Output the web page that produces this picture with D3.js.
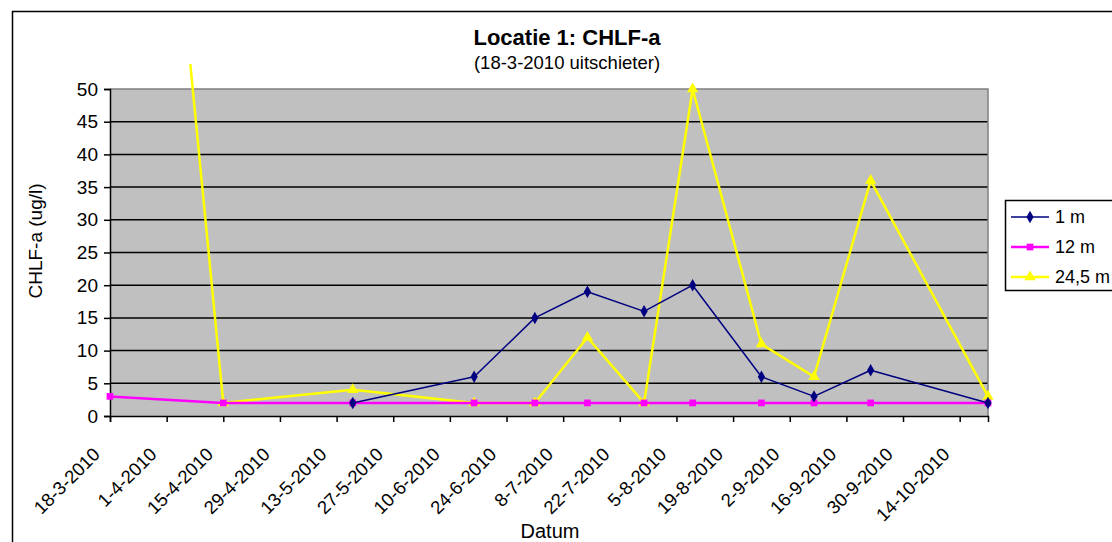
<!DOCTYPE html>
<html>
<head>
<meta charset="utf-8">
<script src="https://cdn.jsdelivr.net/npm/d3@7"></script>
<style>
  body { margin: 0; background: #fff; }
  svg { display: block; }
  text { font-family: Arial, "Liberation Sans", sans-serif; fill: #000; }
</style>
</head>
<body>
<svg id="chart" width="1112" height="542"></svg>
<script>
// Sampling dates and CHLF-a concentrations (ug/l) per depth
const sampleDates = ["18-3-2010", "15-4-2010", "17-5-2010", "16-6-2010", "1-7-2010", "14-7-2010",
                     "28-7-2010", "9-8-2010", "26-8-2010", "8-9-2010", "22-9-2010", "21-10-2010"];
const depth1m   = [null, null, 2, 6, 15, 19, 16, 20, 6, 3, 7, 2];
const depth12m  = [3, 2, 2, 2, 2, 2, 2, 2, 2, 2, 2, 2];
const depth245m = [180, 2, 4, 2, 2, 12, 2, 50, 11, 6, 36, 3];

const seriesNames = ["1 m", "12 m", "24,5 m"];
const yTicks = [0, 5, 10, 15, 20, 25, 30, 35, 40, 45, 50];
const xTickLabels = ["18-3-2010", "1-4-2010", "15-4-2010", "29-4-2010", "13-5-2010", "27-5-2010",
                     "10-6-2010", "24-6-2010", "8-7-2010", "22-7-2010", "5-8-2010", "19-8-2010",
                     "2-9-2010", "16-9-2010", "30-9-2010", "14-10-2010"];

const parse = d3.timeParse("%d-%m-%Y");
const dates = sampleDates.map(parse);
const tickDates = xTickLabels.map(parse);

const svg = d3.select("#chart");
const plot = { left: 110, right: 988, top: 89, bottom: 416 };

// outer chart frame
svg.append("rect")
  .attr("x", 12.5).attr("y", 11.5).attr("width", 1120).attr("height", 560)
  .attr("fill", "#fff").attr("stroke", "#000").attr("stroke-width", 1.5);

const x = d3.scaleTime().domain([dates[0], dates[dates.length - 1]]).range([plot.left, plot.right]);
const y = d3.scaleLinear().domain([0, 50]).range([plot.bottom, plot.top]);

// plot area
svg.append("rect")
  .attr("x", plot.left).attr("y", plot.top)
  .attr("width", plot.right - plot.left).attr("height", plot.bottom - plot.top)
  .attr("fill", "#c0c0c0");

// horizontal gridlines
svg.append("g").selectAll("line").data(yTicks.slice(1, -1)).join("line")
  .attr("x1", plot.left).attr("x2", plot.right)
  .attr("y1", d => y(d)).attr("y2", d => y(d))
  .attr("stroke", "#000").attr("stroke-width", 1.5);

// plot border (top and right)
svg.append("path")
  .attr("d", `M${plot.left},${plot.top}H${plot.right}V${plot.bottom}`)
  .attr("fill", "none").attr("stroke", "#808080").attr("stroke-width", 1.5);

// y axis
const yAxis = svg.append("g")
  .attr("transform", `translate(${plot.left},0)`)
  .call(d3.axisLeft(y).tickValues(yTicks).tickSize(6).tickPadding(6));
yAxis.select(".domain").attr("stroke", "#000").attr("stroke-width", 1.5);
yAxis.selectAll(".tick line").attr("stroke", "#000").attr("stroke-width", 1.5);
yAxis.selectAll(".tick text").attr("font-size", 19).attr("font-family", "Arial, 'Liberation Sans', sans-serif").attr("fill", "#000");

// x axis
const xAxis = svg.append("g")
  .attr("transform", `translate(0,${plot.bottom})`)
  .call(d3.axisBottom(x).tickValues(tickDates).tickSize(6).tickFormat(""));
xAxis.select(".domain").attr("stroke", "#000").attr("stroke-width", 1.5);
xAxis.selectAll(".tick line").attr("stroke", "#000").attr("stroke-width", 1.5);
xAxis.selectAll(".tick").append("text")
  .attr("text-anchor", "end")
  .attr("font-size", 18.5)
  .attr("fill", "#000")
  .attr("transform", "translate(-14,35) rotate(-45)")
  .attr("dy", "0.35em")
  .text((d, i) => xTickLabels[i]);

// series lines
const clipId = "plotClip";
svg.append("clipPath").attr("id", clipId).append("rect")
  .attr("x", plot.left - 10).attr("y", 64)
  .attr("width", plot.right - plot.left + 20).attr("height", plot.bottom - 64 + 10);

const line = d3.line()
  .defined(d => d.v != null)
  .x(d => x(d.date)).y(d => y(d.v));

const toPoints = vals => vals.map((v, i) => ({ date: dates[i], v }));

const series = [
  { name: seriesNames[0], values: depth1m, color: "#000080", width: 1.5, marker: d3.symbolDiamond, size: 45 },
  { name: seriesNames[1], values: depth12m, color: "#ff00ff", width: 2.5, marker: d3.symbolSquare, size: 45 },
  { name: seriesNames[2], values: depth245m, color: "#ffff00", width: 2.5, marker: d3.symbolTriangle, size: 55 }
];

const drawOrder = [2, 1, 0];
const gSeries = svg.append("g").attr("clip-path", `url(#${clipId})`);
drawOrder.forEach(k => {
  const s = series[k];
  const pts = toPoints(s.values);
  gSeries.append("path")
    .datum(pts)
    .attr("d", line)
    .attr("fill", "none")
    .attr("stroke", s.color)
    .attr("stroke-width", s.width)
    .attr("stroke-linejoin", "round");
  gSeries.append("g").selectAll("path")
    .data(pts.filter(d => d.v != null && d.v <= 50))
    .join("path")
    .attr("transform", d => `translate(${x(d.date)},${y(d.v)})`)
    .attr("d", d3.symbol().type(s.marker).size(s.size))
    .attr("fill", s.color);
});

// titles
svg.append("text").attr("x", 567).attr("y", 45).attr("text-anchor", "middle")
  .attr("font-size", 22).attr("font-weight", "bold").text("Locatie 1: CHLF-a");
svg.append("text").attr("x", 567).attr("y", 69).attr("text-anchor", "middle")
  .attr("font-size", 18.5).text("(18-3-2010 uitschieter)");
svg.append("text").attr("transform", "translate(42,241) rotate(-90)").attr("text-anchor", "middle")
  .attr("font-size", 19).text("CHLF-a (ug/l)");
svg.append("text").attr("x", 550).attr("y", 538).attr("text-anchor", "middle")
  .attr("font-size", 20).text("Datum");

// legend
const legend = svg.append("g");
legend.append("rect")
  .attr("x", 1005.5).attr("y", 200.5).attr("width", 140).attr("height", 90)
  .attr("fill", "#fff").attr("stroke", "#000").attr("stroke-width", 1.5);
series.forEach((s, i) => {
  const cy = 217 + i * 30;
  legend.append("line").attr("x1", 1011).attr("x2", 1049).attr("y1", cy).attr("y2", cy)
    .attr("stroke", s.color).attr("stroke-width", s.width);
  legend.append("path").attr("transform", `translate(1030,${cy})`)
    .attr("d", d3.symbol().type(s.marker).size(s.size)).attr("fill", s.color);
  legend.append("text").attr("x", 1055).attr("y", cy).attr("dy", "0.35em")
    .attr("font-size", 18).text(s.name);
});
</script>
</body>
</html>
